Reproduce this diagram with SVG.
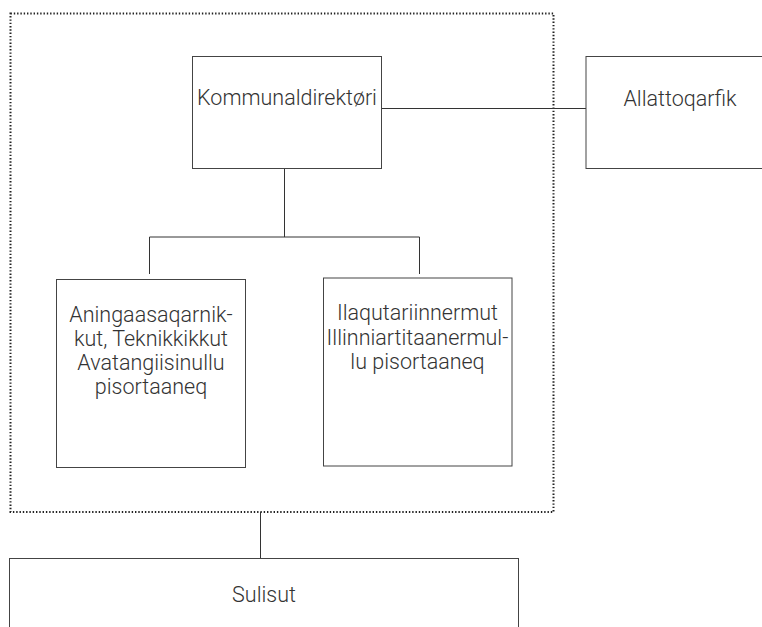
<svg xmlns="http://www.w3.org/2000/svg" width="762" height="627" viewBox="0 0 762 627">
<style>
.box{fill:#fff;stroke:#444;stroke-width:1}
.t{font-family:Roboto,"Noto Sans",sans-serif;font-weight:300;font-size:21.5px;fill:#333;text-anchor:middle}
.c{fill:none;stroke:#333;stroke-width:1}
.grp{fill:none;stroke:#222;stroke-width:2;stroke-dasharray:1.4 1.9}
</style>
<rect width="762" height="627" fill="#fff"/>
<rect id="group" class="grp" x="10.5" y="13.5" width="543" height="498.5"/>
<g id="connectors">
<path class="c" d="M381.5 108.5H586"/>
<path class="c" d="M284.5 168.5V237M149.5 274V237H419.5V274"/>
<path class="c" d="M260.5 512V558"/>
</g>
<g id="kommunaldirektori">
<rect class="box" x="192.5" y="56.5" width="189" height="112"/>
<text class="t" x="287" y="105">Kommunaldirektøri</text>
</g>
<g id="allattoqarfik">
<rect class="box" x="586" y="56.5" width="200" height="112"/>
<text class="t" x="680" y="106">Allattoqarfik</text>
</g>
<g id="aningaasaqarnikkut">
<rect class="box" x="56.5" y="279.5" width="189" height="188"/>
<text class="t" x="151" y="322">Aningaasaqarnik-</text>
<text class="t" x="151" y="346">kut, Teknikkikkut</text>
<text class="t" x="151" y="370">Avatangiisinullu</text>
<text class="t" x="151" y="394">pisortaaneq</text>
</g>
<g id="ilaqutariinnermut">
<rect class="box" x="323.5" y="278" width="188.5" height="188"/>
<text class="t" x="417.5" y="320">Ilaqutariinnermut</text>
<text class="t" x="417.5" y="345">Illinniartitaanermul-</text>
<text class="t" x="417.5" y="369">lu pisortaaneq</text>
</g>
<g id="sulisut">
<rect class="box" x="9.5" y="558.5" width="509" height="100"/>
<text class="t" x="264" y="602">Sulisut</text>
</g>
</svg>
